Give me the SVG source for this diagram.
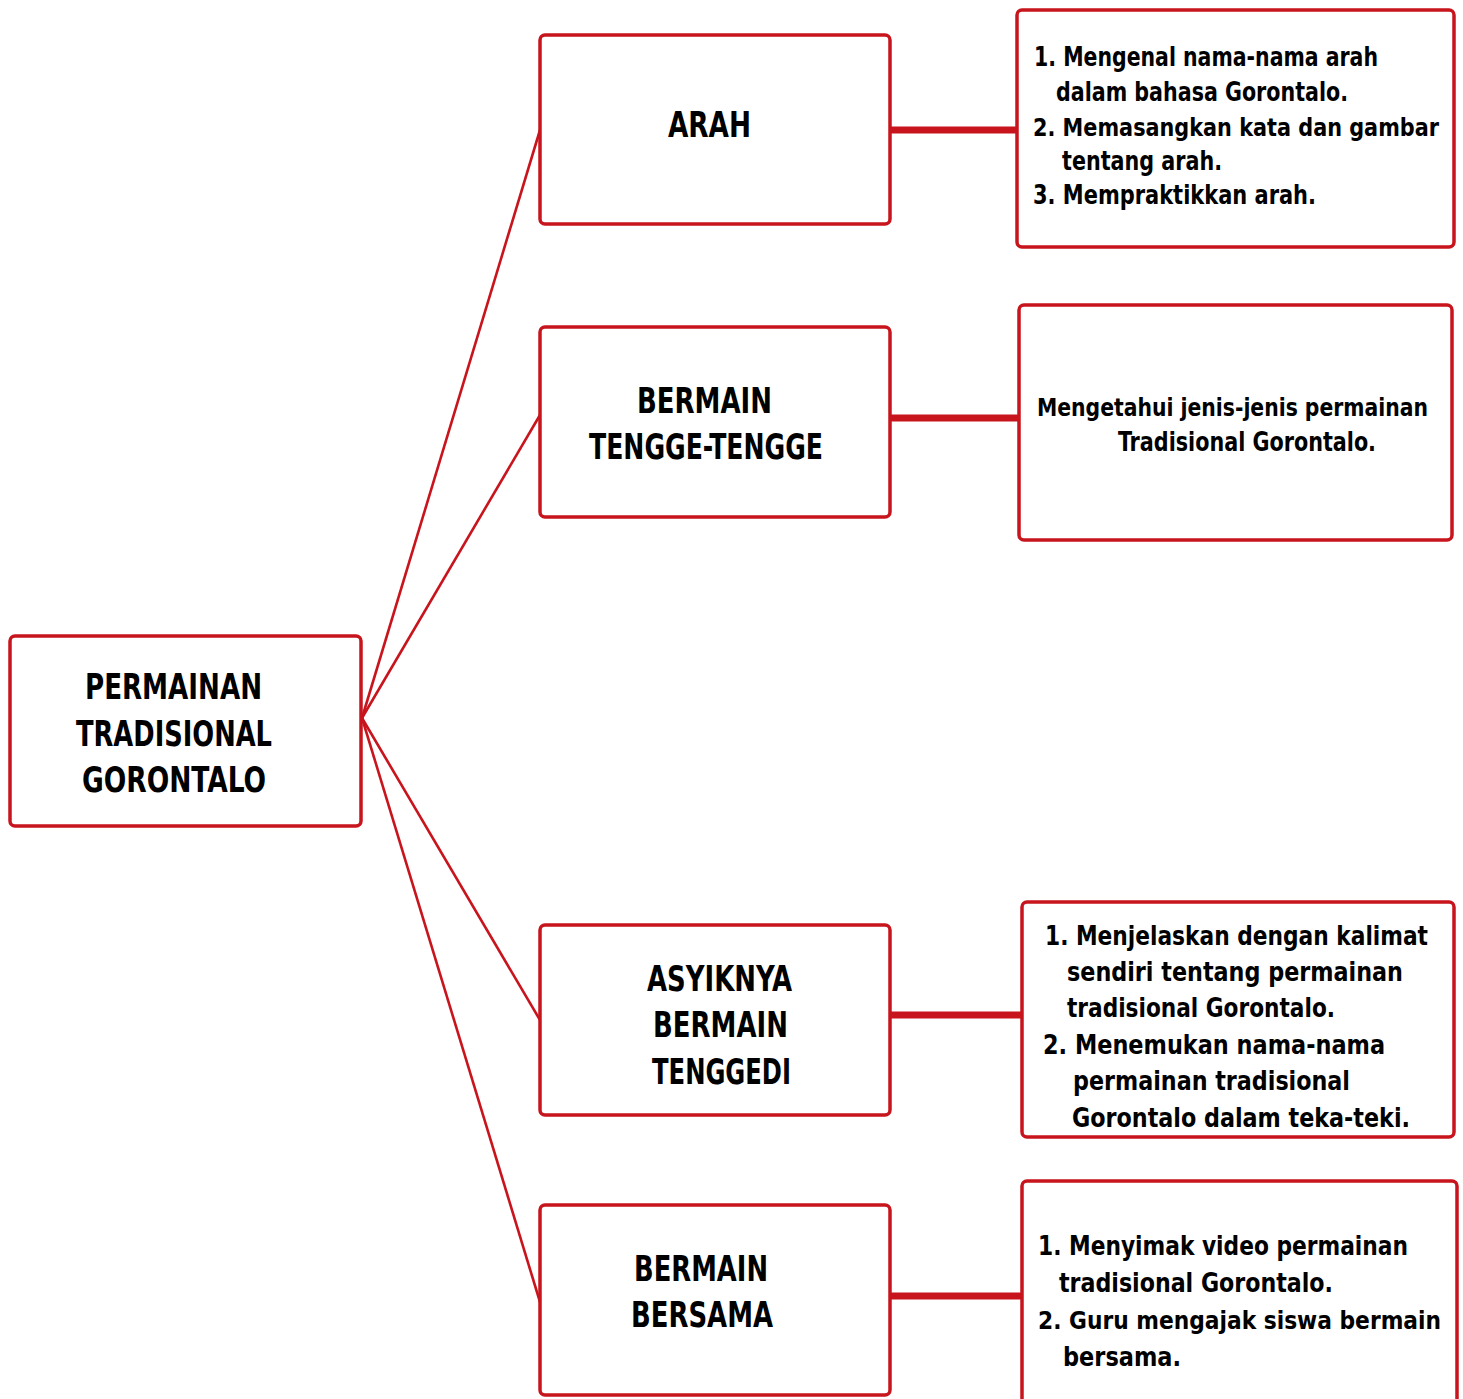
<svg xmlns="http://www.w3.org/2000/svg" width="1463" height="1399" viewBox="0 0 1463 1399">
<style>
.box{fill:#ffffff;stroke:#c8141c;stroke-width:3.5}
.fan{stroke:#c8141c;stroke-width:2.6;fill:none}
.bar{stroke:#c8141c;stroke-width:7;fill:none}
.t{font-family:"Liberation Sans Narrow","DejaVu Sans Condensed","Liberation Sans",sans-serif;font-weight:bold;font-size:35px;fill:#000000}
.s{font-family:"Liberation Sans Narrow","DejaVu Sans Condensed","Liberation Sans",sans-serif;font-weight:bold;font-size:26px;fill:#000000}
.s.w{font-size:24px}
</style>
<rect width="1463" height="1399" fill="#ffffff"/>
<g id="connectors">
<path class="fan" d="M362,718 L540,130"/>
<path class="fan" d="M362,718 L540,415"/>
<path class="fan" d="M362,718 L540,1020"/>
<path class="fan" d="M362,718 L540,1302"/>
<path class="bar" d="M890,130 L1017,130"/>
<path class="bar" d="M890,418 L1019,418"/>
<path class="bar" d="M890,1015 L1022,1015"/>
<path class="bar" d="M890,1296 L1022,1296"/>
</g>
<g id="root">
<rect class="box" x="10" y="636" width="351" height="190" rx="5"/>
<text class="t" x="85" y="699" textLength="177" lengthAdjust="spacingAndGlyphs">PERMAINAN</text>
<text class="t" x="76" y="746" textLength="196" lengthAdjust="spacingAndGlyphs">TRADISIONAL</text>
<text class="t" x="82" y="792" textLength="184" lengthAdjust="spacingAndGlyphs">GORONTALO</text>
</g>
<g id="arah">
<rect class="box" x="540" y="35" width="350" height="189" rx="5"/>
<text class="t" x="668" y="137" textLength="83" lengthAdjust="spacingAndGlyphs">ARAH</text>
</g>
<g id="tengge">
<rect class="box" x="540" y="327" width="350" height="190" rx="5"/>
<text class="t" x="637" y="413" textLength="135" lengthAdjust="spacingAndGlyphs">BERMAIN</text>
<text class="t" x="589" y="459" textLength="234" lengthAdjust="spacingAndGlyphs">TENGGE-TENGGE</text>
</g>
<g id="tenggedi">
<rect class="box" x="540" y="925" width="350" height="190" rx="5"/>
<text class="t" x="647" y="991" textLength="145" lengthAdjust="spacingAndGlyphs">ASYIKNYA</text>
<text class="t" x="653" y="1037" textLength="135" lengthAdjust="spacingAndGlyphs">BERMAIN</text>
<text class="t" x="652" y="1084" textLength="139" lengthAdjust="spacingAndGlyphs">TENGGEDI</text>
</g>
<g id="bersama">
<rect class="box" x="540" y="1205" width="350" height="190" rx="5"/>
<text class="t" x="634" y="1281" textLength="134" lengthAdjust="spacingAndGlyphs">BERMAIN</text>
<text class="t" x="631" y="1327" textLength="142" lengthAdjust="spacingAndGlyphs">BERSAMA</text>
</g>
<g id="goal-arah">
<rect class="box" x="1017" y="10" width="437" height="237" rx="5"/>
<text class="s" x="1034" y="66" textLength="344" lengthAdjust="spacingAndGlyphs">1. Mengenal nama-nama arah</text>
<text class="s" x="1056" y="101" textLength="292" lengthAdjust="spacingAndGlyphs">dalam bahasa Gorontalo.</text>
<text class="s w" x="1033" y="136" textLength="406" lengthAdjust="spacingAndGlyphs">2. Memasangkan kata dan gambar</text>
<text class="s" x="1062" y="170" textLength="160" lengthAdjust="spacingAndGlyphs">tentang arah.</text>
<text class="s" x="1033" y="204" textLength="283" lengthAdjust="spacingAndGlyphs">3. Mempraktikkan arah.</text>
</g>
<g id="goal-tengge">
<rect class="box" x="1019" y="305" width="433" height="235" rx="5"/>
<text class="s w" x="1037" y="416" textLength="391" lengthAdjust="spacingAndGlyphs">Mengetahui jenis-jenis permainan</text>
<text class="s" x="1118" y="451" textLength="258" lengthAdjust="spacingAndGlyphs">Tradisional Gorontalo.</text>
</g>
<g id="goal-tenggedi">
<rect class="box" x="1022" y="902" width="432" height="235" rx="5"/>
<text class="s" x="1045" y="945" textLength="383" lengthAdjust="spacingAndGlyphs">1. Menjelaskan dengan kalimat</text>
<text class="s" x="1067" y="981" textLength="336" lengthAdjust="spacingAndGlyphs">sendiri tentang permainan</text>
<text class="s" x="1067" y="1017" textLength="268" lengthAdjust="spacingAndGlyphs">tradisional Gorontalo.</text>
<text class="s" x="1043" y="1054" textLength="342" lengthAdjust="spacingAndGlyphs">2. Menemukan nama-nama</text>
<text class="s" x="1073" y="1090" textLength="277" lengthAdjust="spacingAndGlyphs">permainan tradisional</text>
<text class="s" x="1072" y="1127" textLength="338" lengthAdjust="spacingAndGlyphs">Gorontalo dalam teka-teki.</text>
</g>
<g id="goal-bersama">
<rect class="box" x="1022" y="1181" width="435" height="240" rx="5"/>
<text class="s" x="1038" y="1255" textLength="370" lengthAdjust="spacingAndGlyphs">1. Menyimak video permainan</text>
<text class="s" x="1059" y="1292" textLength="274" lengthAdjust="spacingAndGlyphs">tradisional Gorontalo.</text>
<text class="s w" x="1038" y="1329" textLength="403" lengthAdjust="spacingAndGlyphs">2. Guru mengajak siswa bermain</text>
<text class="s" x="1063" y="1366" textLength="118" lengthAdjust="spacingAndGlyphs">bersama.</text>
</g>
</svg>
